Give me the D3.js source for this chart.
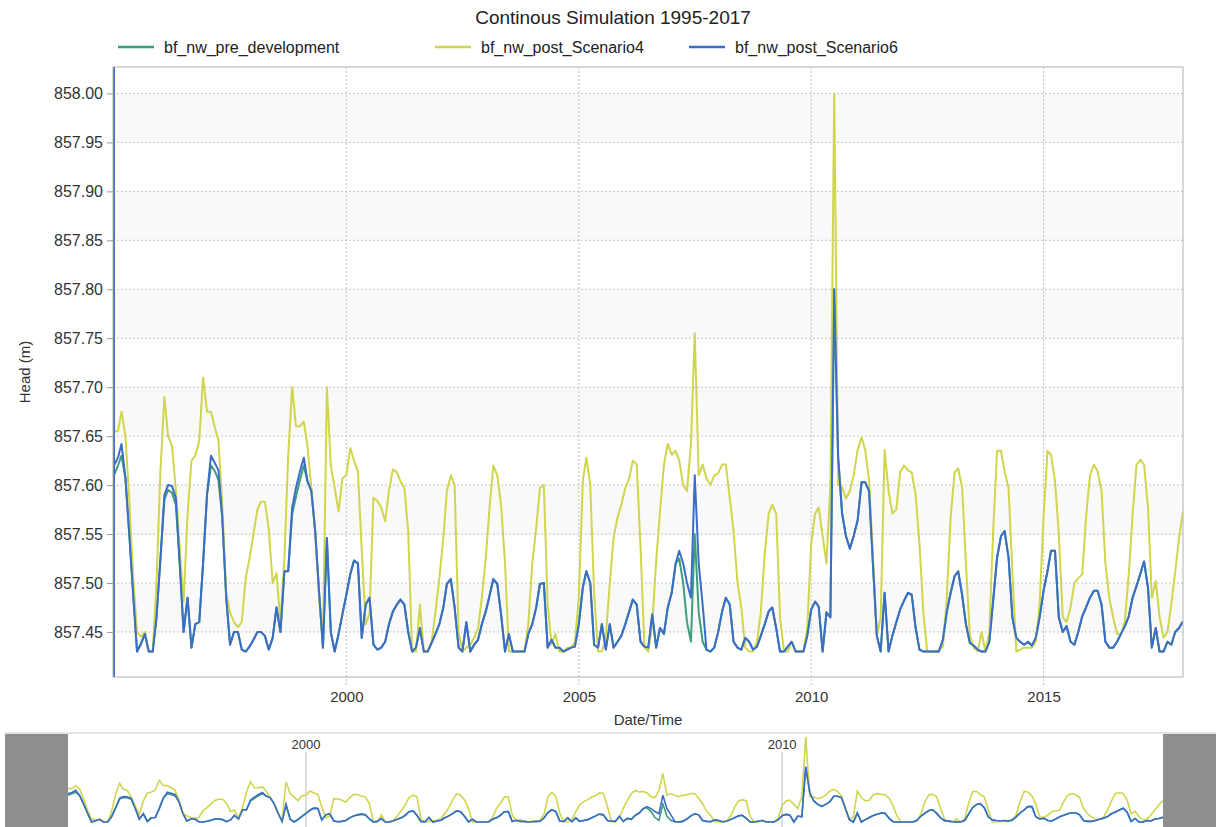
<!DOCTYPE html>
<html>
<head>
<meta charset="utf-8">
<script src="https://cdn.jsdelivr.net/npm/d3@7"></script>
<style>
  body { margin: 0; background: #fff; }
  text { font-family: "Liberation Sans", Arial, sans-serif; }
</style>
</head>
<body>
<svg id="chart" width="1220" height="827"></svg>
<script>
// ---- data (monthly samples, 1995-01 .. 2018-01) ----
const seriesNames = ["bf_nw_pre_development", "bf_nw_post_Scenario4", "bf_nw_post_Scenario6"];
const seriesColors = ["#3d9d7d", "#cfd64c", "#3b6dc7"];

// model start-up transient of Scenario6 (vertical blip on the first day)
const scen6Startup = [858.40, 857.30];

const preDev = [
  857.61, 857.62, 857.63, 857.607, 857.55, 857.488, 857.43, 857.438, 857.448, 857.43, 857.43, 857.465,
  857.525, 857.585, 857.595, 857.592, 857.58, 857.519, 857.45, 857.485, 857.434, 857.458, 857.46, 857.52,
  857.59, 857.62, 857.615, 857.605, 857.567, 857.485, 857.437, 857.45, 857.45, 857.432, 857.43, 857.435,
  857.442, 857.45, 857.45, 857.446, 857.432, 857.444, 857.475, 857.45, 857.512, 857.512, 857.57, 857.588,
  857.605, 857.62, 857.604, 857.594, 857.553, 857.49, 857.434, 857.546, 857.45, 857.43, 857.448, 857.468,
  857.488, 857.509, 857.523, 857.52, 857.444, 857.478, 857.485, 857.437, 857.432, 857.434, 857.44, 857.458,
  857.471, 857.478, 857.483, 857.478, 857.45, 857.43, 857.434, 857.454, 857.43, 857.43, 857.439, 857.448,
  857.458, 857.475, 857.499, 857.504, 857.475, 857.434, 857.43, 857.46, 857.43, 857.437, 857.442, 857.458,
  857.471, 857.488, 857.504, 857.499, 857.468, 857.43, 857.448, 857.43, 857.43, 857.43, 857.43, 857.448,
  857.458, 857.475, 857.499, 857.50, 857.434, 857.442, 857.434, 857.434, 857.43, 857.432, 857.434, 857.435,
  857.458, 857.495, 857.512, 857.50, 857.437, 857.434, 857.458, 857.432, 857.458, 857.434, 857.44, 857.446,
  857.458, 857.471, 857.483, 857.478, 857.44, 857.435, 857.434, 857.468, 857.434, 857.454, 857.448, 857.475,
  857.49, 857.52, 857.525, 857.50, 857.46, 857.44, 857.55, 857.47, 857.44, 857.432, 857.43, 857.434,
  857.45, 857.471, 857.485, 857.478, 857.44, 857.434, 857.432, 857.444, 857.44, 857.432, 857.435, 857.446,
  857.458, 857.471, 857.475, 857.454, 857.43, 857.43, 857.435, 857.44, 857.43, 857.43, 857.43, 857.446,
  857.473, 857.481, 857.476, 857.43, 857.47, 857.465, 857.80, 857.628, 857.571, 857.548, 857.535, 857.548,
  857.564, 857.603, 857.603, 857.594, 857.52, 857.446, 857.43, 857.49, 857.43, 857.446, 857.46, 857.473,
  857.482, 857.49, 857.488, 857.454, 857.432, 857.43, 857.43, 857.43, 857.43, 857.43, 857.442, 857.47,
  857.49, 857.507, 857.512, 857.488, 857.458, 857.439, 857.436, 857.432, 857.43, 857.43, 857.44, 857.482,
  857.526, 857.548, 857.553, 857.526, 857.465, 857.444, 857.44, 857.437, 857.44, 857.436, 857.444, 857.465,
  857.492, 857.512, 857.533, 857.533, 857.465, 857.45, 857.456, 857.44, 857.437, 857.45, 857.466, 857.475,
  857.485, 857.492, 857.492, 857.478, 857.44, 857.434, 857.434, 857.44, 857.448, 857.456, 857.466, 857.485,
  857.497, 857.51, 857.522, 857.495, 857.434, 857.454, 857.43, 857.43, 857.44, 857.437, 857.45, 857.454,
  857.461
];

const scen4 = [
  857.655, 857.655, 857.675, 857.65, 857.585, 857.505, 857.45, 857.445, 857.45, 857.43, 857.43, 857.50,
  857.615, 857.69, 857.65, 857.64, 857.595, 857.535, 857.48, 857.57, 857.625, 857.63, 857.645, 857.71,
  857.675, 857.675, 857.66, 857.645, 857.58, 857.49, 857.47, 857.46, 857.455, 857.46, 857.505, 857.525,
  857.55, 857.575, 857.583, 857.583, 857.555, 857.50, 857.51, 857.46, 857.525, 857.63, 857.70, 857.66,
  857.66, 857.665, 857.64, 857.597, 857.553, 857.485, 857.44, 857.70, 857.62, 857.597, 857.573, 857.607,
  857.61, 857.638, 857.625, 857.614, 857.533, 857.458, 857.468, 857.587, 857.584, 857.577, 857.563, 857.594,
  857.616, 857.613, 857.604, 857.597, 857.553, 857.43, 857.43, 857.478, 857.43, 857.43, 857.44, 857.47,
  857.505, 857.546, 857.594, 857.61, 857.60, 857.45, 857.43, 857.434, 857.437, 857.444, 857.454, 857.485,
  857.526, 857.58, 857.62, 857.61, 857.58, 857.52, 857.43, 857.43, 857.43, 857.43, 857.43, 857.458,
  857.52, 857.556, 857.597, 857.60, 857.478, 857.437, 857.448, 857.43, 857.43, 857.434, 857.434, 857.44,
  857.485, 857.604, 857.628, 857.60, 857.49, 857.43, 857.43, 857.444, 857.50, 857.546, 857.567, 857.58,
  857.597, 857.607, 857.625, 857.621, 857.536, 857.434, 857.43, 857.458, 857.523, 857.573, 857.621, 857.642,
  857.631, 857.635, 857.625, 857.60, 857.594, 857.642, 857.755, 857.61, 857.621, 857.607, 857.60, 857.61,
  857.612, 857.621, 857.621, 857.587, 857.553, 857.50, 857.475, 857.434, 857.43, 857.43, 857.44, 857.47,
  857.53, 857.571, 857.58, 857.571, 857.465, 857.43, 857.43, 857.44, 857.43, 857.43, 857.43, 857.454,
  857.54, 857.571, 857.577, 857.548, 857.52, 857.60, 858.00, 857.60, 857.598, 857.586, 857.594, 857.61,
  857.636, 857.649, 857.636, 857.605, 857.53, 857.446, 857.465, 857.636, 857.594, 857.571, 857.575, 857.613,
  857.62, 857.615, 857.613, 857.59, 857.54, 857.469, 857.43, 857.43, 857.43, 857.432, 857.435, 857.484,
  857.567, 857.613, 857.617, 857.598, 857.52, 857.446, 857.434, 857.43, 857.45, 857.43, 857.45, 857.553,
  857.635, 857.635, 857.614, 857.597, 857.512, 857.43, 857.432, 857.434, 857.434, 857.434, 857.44, 857.478,
  857.567, 857.635, 857.631, 857.604, 857.55, 857.465, 857.46, 857.475, 857.50, 857.505, 857.509, 857.567,
  857.61, 857.621, 857.614, 857.594, 857.52, 857.485, 857.465, 857.448, 857.448, 857.461, 857.509, 857.57,
  857.621, 857.626, 857.621, 857.577, 857.485, 857.502, 857.465, 857.444, 857.45, 857.478, 857.512, 857.546,
  857.573
];

const scen6 = [
  857.62, 857.628, 857.642, 857.607, 857.55, 857.488, 857.43, 857.438, 857.448, 857.43, 857.43, 857.465,
  857.525, 857.59, 857.60, 857.599, 857.587, 857.519, 857.45, 857.485, 857.434, 857.458, 857.46, 857.52,
  857.59, 857.63, 857.623, 857.615, 857.567, 857.485, 857.437, 857.45, 857.45, 857.432, 857.43, 857.435,
  857.442, 857.45, 857.45, 857.446, 857.432, 857.444, 857.475, 857.45, 857.512, 857.512, 857.577, 857.597,
  857.614, 857.628, 857.604, 857.594, 857.553, 857.49, 857.434, 857.546, 857.45, 857.43, 857.448, 857.468,
  857.488, 857.509, 857.523, 857.52, 857.444, 857.478, 857.485, 857.437, 857.432, 857.434, 857.44, 857.458,
  857.471, 857.478, 857.483, 857.478, 857.45, 857.43, 857.434, 857.454, 857.43, 857.43, 857.439, 857.448,
  857.458, 857.475, 857.499, 857.504, 857.475, 857.434, 857.43, 857.46, 857.43, 857.437, 857.442, 857.458,
  857.471, 857.488, 857.504, 857.499, 857.468, 857.43, 857.448, 857.43, 857.43, 857.43, 857.43, 857.448,
  857.458, 857.475, 857.499, 857.50, 857.434, 857.442, 857.434, 857.434, 857.43, 857.432, 857.434, 857.435,
  857.458, 857.495, 857.512, 857.50, 857.437, 857.434, 857.458, 857.432, 857.458, 857.434, 857.44, 857.446,
  857.458, 857.471, 857.483, 857.478, 857.44, 857.435, 857.434, 857.468, 857.434, 857.454, 857.448, 857.475,
  857.49, 857.52, 857.533, 857.52, 857.50, 857.485, 857.61, 857.52, 857.478, 857.432, 857.43, 857.434,
  857.45, 857.471, 857.485, 857.478, 857.44, 857.434, 857.432, 857.444, 857.44, 857.432, 857.435, 857.446,
  857.458, 857.471, 857.475, 857.454, 857.43, 857.43, 857.435, 857.44, 857.43, 857.43, 857.43, 857.446,
  857.473, 857.481, 857.476, 857.43, 857.47, 857.465, 857.80, 857.628, 857.571, 857.548, 857.535, 857.548,
  857.564, 857.603, 857.603, 857.594, 857.52, 857.446, 857.43, 857.49, 857.43, 857.446, 857.46, 857.473,
  857.482, 857.49, 857.488, 857.454, 857.432, 857.43, 857.43, 857.43, 857.43, 857.43, 857.442, 857.47,
  857.49, 857.507, 857.512, 857.488, 857.458, 857.439, 857.436, 857.432, 857.43, 857.43, 857.44, 857.482,
  857.526, 857.548, 857.553, 857.526, 857.465, 857.444, 857.44, 857.437, 857.44, 857.436, 857.444, 857.465,
  857.492, 857.512, 857.533, 857.533, 857.465, 857.45, 857.456, 857.44, 857.437, 857.45, 857.466, 857.475,
  857.485, 857.492, 857.492, 857.478, 857.44, 857.434, 857.434, 857.44, 857.448, 857.456, 857.466, 857.485,
  857.497, 857.51, 857.522, 857.495, 857.434, 857.454, 857.43, 857.43, 857.44, 857.437, 857.45, 857.454,
  857.461
];

const yTicks = [858.00, 857.95, 857.90, 857.85, 857.80, 857.75, 857.70, 857.65, 857.60, 857.55, 857.50, 857.45];
const xTickYears = [2000, 2005, 2010, 2015];
const navTickYears = [2000, 2010];

// ---- setup ----
var svg = d3.select("#chart");

// monthly sample dates, 1995-01-01 .. 2018-01-01
var dates = d3.timeMonth.range(new Date(1995, 0, 1), new Date(2018, 0, 2));

var plot = { left: 113, right: 1183, top: 67, bottom: 677 };

var x = d3.scaleTime()
    .domain([new Date(1995, 0, 1), new Date(2018, 0, 1)])
    .range([plot.left + 1, plot.right]);

var y = d3.scaleLinear()
    .domain([857.404, 858.027])
    .range([plot.bottom, plot.top]);

function toPoints(values) {
    return values.map(function (v, i) { return { date: dates[i], v: v }; });
}

var seriesData = [
    toPoints(preDev),
    toPoints(scen4),
    [{ date: dates[0], v: scen6Startup[0] }, { date: dates[0], v: scen6Startup[1] }].concat(toPoints(scen6))
];

// ---- title ----
svg.append("text")
    .attr("x", 613).attr("y", 24)
    .attr("text-anchor", "middle")
    .style("font-size", "19px").style("fill", "#222")
    .text("Continous Simulation 1995-2017");

// ---- legend ----
var legendX = [164, 481, 735];
seriesNames.forEach(function (name, i) {
    svg.append("line")
        .attr("x1", legendX[i] - 46).attr("x2", legendX[i] - 10)
        .attr("y1", 47).attr("y2", 47)
        .style("stroke", seriesColors[i]).style("stroke-width", 2.5);
    svg.append("text")
        .attr("x", legendX[i]).attr("y", 53)
        .style("font-size", "16px").style("fill", "#222")
        .text(name);
});

// ---- plot background bands + grid ----
var bands = svg.append("g");
for (var i = 0; i < yTicks.length - 1; i += 2) {
    bands.append("rect")
        .attr("x", plot.left).attr("width", plot.right - plot.left)
        .attr("y", y(yTicks[i])).attr("height", y(yTicks[i + 1]) - y(yTicks[i]))
        .style("fill", "#f9f9f9");
}

svg.append("g")
    .selectAll("line")
    .data(yTicks)
    .enter().append("line")
    .attr("x1", plot.left).attr("x2", plot.right)
    .attr("y1", function (d) { return y(d); }).attr("y2", function (d) { return y(d); })
    .style("stroke", "#c4c4c4").style("stroke-dasharray", "2,2");

svg.append("g")
    .selectAll("line")
    .data(xTickYears)
    .enter().append("line")
    .attr("x1", function (d) { return x(new Date(d, 0, 1)); })
    .attr("x2", function (d) { return x(new Date(d, 0, 1)); })
    .attr("y1", plot.top).attr("y2", plot.bottom + 8)
    .style("stroke", "#c4c4c4").style("stroke-dasharray", "2,2");

// ---- axes ----
var yAxis = svg.append("g")
    .attr("transform", "translate(" + plot.left + ",0)")
    .call(d3.axisLeft(y).tickValues(yTicks).tickSize(6).tickPadding(4).tickFormat(d3.format(".2f")));
yAxis.select(".domain").remove();
yAxis.selectAll("text").style("font-size", "16px").style("fill", "#333");
yAxis.selectAll("line").style("stroke", "#999");

var xAxis = svg.append("g")
    .attr("transform", "translate(0," + plot.bottom + ")")
    .call(d3.axisBottom(x).tickValues(xTickYears.map(function (d) { return new Date(d, 0, 1); }))
        .tickSize(0).tickPadding(14).tickFormat(d3.timeFormat("%Y")));
xAxis.select(".domain").remove();
xAxis.selectAll("text").style("font-size", "15px").style("fill", "#333");

svg.append("text")
    .attr("transform", "translate(30," + ((plot.top + plot.bottom) / 2) + ") rotate(-90)")
    .attr("text-anchor", "middle")
    .style("font-size", "15px").style("fill", "#333")
    .text("Head (m)");

svg.append("text")
    .attr("x", (plot.left + plot.right) / 2).attr("y", 725)
    .attr("text-anchor", "middle")
    .style("font-size", "15px").style("fill", "#333")
    .text("Date/Time");

// ---- lines ----
svg.append("defs").append("clipPath").attr("id", "clip")
    .append("rect")
    .attr("x", plot.left - 1).attr("y", plot.top)
    .attr("width", plot.right - plot.left + 1).attr("height", plot.bottom - plot.top);

var line = d3.line()
    .x(function (d) { return x(d.date); })
    .y(function (d) { return y(d.v); });

svg.append("g").attr("clip-path", "url(#clip)")
    .selectAll("path")
    .data(seriesData)
    .enter().append("path")
    .attr("d", line)
    .style("fill", "none")
    .style("stroke", function (d, i) { return seriesColors[i]; })
    .style("stroke-width", 2)
    .style("stroke-linejoin", "round");

// frame
svg.append("rect")
    .attr("x", plot.left).attr("y", plot.top)
    .attr("width", plot.right - plot.left).attr("height", plot.bottom - plot.top)
    .style("fill", "none").style("stroke", "#b0b0b0");

// ---- navigator ----
var nav = { left: 68, right: 1163, top: 733, bottom: 827 };
var xNav = d3.scaleTime()
    .domain(x.domain())
    .range([nav.left, nav.right]);
var yNav = d3.scaleLinear()
    .domain([857.43, 858.00])
    .range([822, 737]);

svg.append("line")
    .attr("x1", 5).attr("x2", 1216).attr("y1", nav.top).attr("y2", nav.top)
    .style("stroke", "#c8c8c8");

svg.append("g")
    .selectAll("line")
    .data(navTickYears)
    .enter().append("line")
    .attr("x1", function (d) { return xNav(new Date(d, 0, 1)); })
    .attr("x2", function (d) { return xNav(new Date(d, 0, 1)); })
    .attr("y1", 752).attr("y2", nav.bottom)
    .style("stroke", "#bbb");

svg.append("g")
    .selectAll("text")
    .data(navTickYears)
    .enter().append("text")
    .attr("x", function (d) { return xNav(new Date(d, 0, 1)); })
    .attr("y", 749)
    .attr("text-anchor", "middle")
    .style("font-size", "13px").style("fill", "#333")
    .text(function (d) { return d; });

var navLine = d3.line()
    .x(function (d) { return xNav(d.date); })
    .y(function (d) { return yNav(d.v); });

svg.append("defs").append("clipPath").attr("id", "navclip")
    .append("rect")
    .attr("x", nav.left).attr("y", nav.top)
    .attr("width", nav.right - nav.left).attr("height", nav.bottom - nav.top);

svg.append("g").attr("clip-path", "url(#navclip)")
    .selectAll("path")
    .data([toPoints(preDev), toPoints(scen4), toPoints(scen6)])
    .enter().append("path")
    .attr("d", navLine)
    .style("fill", "none")
    .style("stroke", function (d, i) { return seriesColors[i]; })
    .style("stroke-width", 1.6);

// grey masks outside the selected range
svg.append("rect")
    .attr("x", 5).attr("y", nav.top + 1)
    .attr("width", nav.left - 5).attr("height", nav.bottom - nav.top)
    .style("fill", "#8e8e8e");
svg.append("rect")
    .attr("x", nav.right).attr("y", nav.top + 1)
    .attr("width", 1216 - nav.right).attr("height", nav.bottom - nav.top)
    .style("fill", "#8e8e8e");
</script>
</body>
</html>
